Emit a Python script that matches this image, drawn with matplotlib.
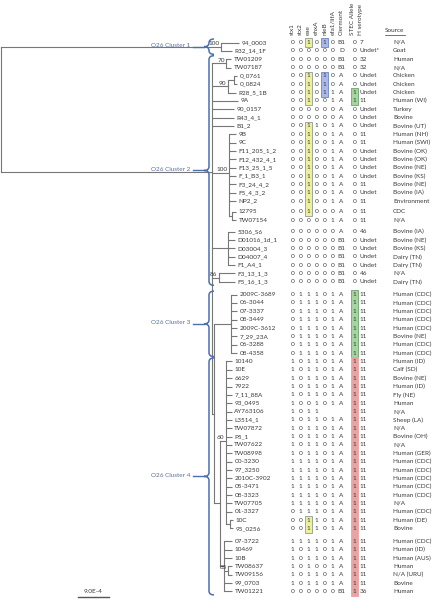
import matplotlib
matplotlib.use("Agg")
import matplotlib.pyplot as plt
from matplotlib.path import Path
from matplotlib.patches import PathPatch, Rectangle

# ---- table data (one entry per strain, top to bottom) ----
names = ["94_0003", "R32_14_1F", "TW01209", "TW07187", "0_0761", "0_0824", "R28_5_1B", "9A",
         "90_0157", "R43_4_1", "B1_2", "9B", "9C", "F11_205_1_2", "F12_432_4_1", "F13_25_1_5",
         "F_1_B3_1", "F3_24_4_2", "F5_4_3_2", "NP2_2", "12795", "TW07154", "5306_S6",
         "D01016_1d_1", "D03004_3", "D04007_4", "F1_A4_1", "F3_13_1_3", "F5_16_1_3",
         "2009C-3689", "06-3044", "07-3337", "08-3449", "2009C-3612", "7_29_23A", "06-3288",
         "08-4358", "10140", "10E", "6629", "7922", "7_11_88A", "93_0495", "AY763106",
         "L3514_1", "TW07872", "P5_1", "TW07622", "TW08998", "00-3230", "97_3250",
         "2010C-3902", "05-3471", "08-3323", "TW07705", "01-3327", "10C", "95_0256",
         "07-3722", "10469", "10B", "TW08637", "TW09156", "99_0703", "TW01221"]

# gene presence, one character per strain ('.' = not determined)
stx1 = "0" * 37 + "1" * 18 + "0" * 3 + "1" * 6 + "0"
stx2 = "0" * 29 + "1" * 8 + "0" * 12 + "1" * 7 + "0" * 2 + "1" + "0" * 6
eae = "1" + "000" + "1111" + "00" + "1" * 11 + "0" * 8 + "1" * 13 + "0" + "1" * 21 + "0"
ehxA = "0" * 10 + "1" + "0" * 18 + "1" * 32 + "0" + "11" + "0"
nleB = "1" + "000" + "111" + "0" * 36 + "." + "0" * 21
efa1 = "0" * 6 + "11" + "00" + "1" * 10 + "0" + "1" + "0" * 7 + "1" * 14 + "." + "1" * 20 + "0"
stec = "0" * 6 + "11" + "0" * 21 + "1" * 36

clermont = ["B1", "D", "B1", "B1"] + ["A"] * 19 + ["B1"] * 6 + ["A"] * 14 + [""] + ["A"] * 20 + ["B1"]
h_type = ["7", "Undet*", "32", "32", "Undet", "Undet", "Undet", "11", "Undet", "Undet", "Undet",
          "11", "11", "Undet", "Undet", "Undet", "Undet", "11", "Undet", "11", "11", "11", "46",
          "Undet", "Undet", "Undet", "Undet", "46", "Undet"] + ["11"] * 35 + ["36"]
source = ["N/A", "Goat", "Human", "N/A", "Chicken", "Chicken", "Chicken", "Human (WI)", "Turkey",
          "Bovine", "Bovine (UT)", "Human (NH)", "Human (SWI)", "Bovine (OK)", "Bovine (OK)",
          "Bovine (NE)", "Bovine (KS)", "Bovine (NE)", "Bovine (IA)", "Environment", "CDC", "N/A",
          "Bovine (IA)", "Bovine (NE)", "Bovine (KS)", "Dairy (TN)", "Dairy (TN)", "N/A",
          "Dairy (TN)", "Human (CDC)", "Human (CDC)", "Human (CDC)", "Human (CDC)", "Human (CDC)",
          "Bovine (NE)", "Human (CDC)", "Human (CDC)", "Human (ID)", "Calf (SD)", "Bovine (NE)",
          "Human (ID)", "Fly (NE)", "Human", "N/A", "Sheep (LA)", "N/A", "Bovine (OH)", "N/A",
          "Human (GER)", "Human (CDC)", "Human (CDC)", "Human (CDC)", "Human (CDC)", "Human (CDC)",
          "N/A", "Human (CDC)", "Human (DE)", "Bovine", "Human (CDC)", "Human (ID)", "Human (AUS)",
          "Human", "N/A (URU)", "Bovine", "Human"]

headers = ["stx1", "stx2", "eae", "ehxA", "nleB", "efa1/lifA", "Clermont", "STEC Allele", "H serotype"]

# highlighted runs: (column, first strain, last strain, fill, edge)
highlights = [
    ("eae", "94_0003", "94_0003", "#eef09c", "#8c9c9c"),
    ("eae", "0_0761", "9A", "#eef09c", "#8c9c9c"),
    ("eae", "B1_2", "12795", "#eef09c", "#8c9c9c"),
    ("eae", "10C", "95_0256", "#eef09c", "#8c9c9c"),
    ("nleB", "94_0003", "94_0003", "#a9b9ea", "#6b84c0"),
    ("nleB", "0_0761", "R28_5_1B", "#a9b9ea", "#6b84c0"),
    ("STEC Allele", "R28_5_1B", "9A", "#a6d6a0", "#6fa06f"),
    ("STEC Allele", "2009C-3689", "08-4358", "#a6d6a0", "#6fa06f"),
    ("STEC Allele", "10140", "TW01221", "#eaa3a3", "#eaa3a3"),
]

# clusters: label, first strain, last strain
clusters = [("O26 Cluster 1", "94_0003", "R32_14_1F"),
            ("O26 Cluster 2", "TW01209", "F5_16_1_3"),
            ("O26 Cluster 3", "2009C-3689", "08-4358"),
            ("O26 Cluster 4", "10140", "TW01221")]

# tree: leaf = (name, branch length), node = ([children], branch length, bootstrap)
# branch lengths in substitutions/site x 1e-4
def tips(group, length):
    return [(n, length) for n in group]

tree = ([
    (tips(["94_0003"], 5.2) + tips(["R32_14_1F"], 3.2), 63.9, "100"),
    ([
        (tips(["TW01209", "TW07187"], 1.5), 4.1, "70"),
        ([(tips(["0_0761", "0_0824"], 0.9), 1.7, None), ("R28_5_1B", 2.3)], 4.6, "90"),
        ("9A", 7.5),
        ("90_0157", 6.4), ("R43_4_1", 6.4), ("B1_2", 6.4),
        (tips(["9B", "9C", "F11_205_1_2", "F12_432_4_1", "F13_25_1_5", "F_1_B3_1",
               "F3_24_4_2", "F5_4_3_2", "NP2_2"], 2.0)
         + [(tips(["12795", "TW07154"], 1.2), 0.9, None)], 4.9, "100"),
        (tips(["5306_S6", "D01016_1d_1", "D03004_3", "D04007_4", "F1_A4_1"], 2.0), 4.6, None),
        (tips(["F3_13_1_3", "F5_16_1_3"], 4.6), 2.0, "86"),
        ([
            (tips(["2009C-3689", "06-3044", "07-3337", "08-3449", "2009C-3612",
                   "7_29_23A", "06-3288", "08-4358"], 1.7), 4.9, None),
            ([
                (tips(["10140", "10E", "6629", "7922", "7_11_88A", "93_0495", "AY763106",
                       "L3514_1", "TW07872", "P5_1", "TW07622", "TW08998", "00-3230",
                       "97_3250", "2010C-3902", "05-3471", "08-3323", "TW07705", "01-3327"], 1.7)
                 + [(tips(["10C", "95_0256"], 0.9), 1.2, None)], 1.7, "60"),
                (tips(["07-3722", "10469", "10B"], 2.3)
                 + [(tips(["TW08637", "TW09156"], 1.2), 1.2, "85")]
                 + tips(["99_0703", "TW01221"], 2.3), 1.2, None),
            ], 1.7, None),
        ], 0.6, None),
    ], 61.3, None),
], 0.0, None)

scale_value = 9.0  # x 1e-4, shown as 9.0E-4

# ---- layout ----
W, H = 433, 604
fig = plt.figure(figsize=(W / 100, H / 100), dpi=100)
ax = fig.add_axes([0, 0, 1, 1])
ax.set_xlim(0, W)
ax.set_ylim(H, 0)
ax.axis("off")
plt.rcParams["font.family"] = ["Lato", "DejaVu Sans"]

row_step = 8.35
gaps_after = {"NP2_2": 2.5, "TW07154": 3.0, "F5_16_1_3": 4.5, "95_0256": 4.5}
row_y = {}
y = 42.5
for n in names:
    row_y[n] = y
    y += row_step + gaps_after.get(n, 0)

px_per_unit = 31 / scale_value
tree_col = "#777777"
txt_col = "#3a3a3a"
fs = 4.6


def draw(node, x0):
    if isinstance(node[0], str):
        name, length = node
        xt = x0 + length * px_per_unit
        yy = row_y[name]
        ax.plot([x0, xt], [yy, yy], color=tree_col, lw=0.8, solid_capstyle="butt")
        ax.text(xt + 2.5, yy, name, fontsize=fs, color=txt_col, va="center", ha="left")
        return yy
    children, length, boot = node
    xn = x0 + length * px_per_unit
    ys = [draw(c, xn) for c in children]
    yn = sum(ys) / len(ys)
    ax.plot([xn, xn], [min(ys), max(ys)], color=tree_col, lw=0.8)
    ax.plot([x0, xn], [yn, yn], color=tree_col, lw=0.8)
    if boot:
        ax.text(xn - 1.5, yn - 0.8, boot, fontsize=fs, color=txt_col, ha="right", va="bottom")
    return yn


draw(tree, 1.0)

# table columns
col_x = {"stx1": 292.7, "stx2": 300.7, "eae": 308.7, "ehxA": 316.7, "nleB": 324.7,
         "efa1/lifA": 332.7, "Clermont": 341.5, "STEC Allele": 354.5, "H serotype": 360}
head_x = dict(col_x, **{"STEC Allele": 352.5, "H serotype": 360.5})
gene_cols = [("stx1", stx1), ("stx2", stx2), ("eae", eae), ("ehxA", ehxA),
             ("nleB", nleB), ("efa1/lifA", efa1), ("STEC Allele", stec)]

for col, first, last, fc, ec in highlights:
    y0 = row_y[first] - 4.2
    y1 = row_y[last] + 4.2
    ax.add_patch(Rectangle((col_x[col] - 3.6, y0), 7.2, y1 - y0, facecolor=fc,
                           edgecolor=ec, lw=0.6, zorder=1))

for i, n in enumerate(names):
    yy = row_y[n]
    for col, vals in gene_cols:
        if vals[i] != ".":
            ax.text(col_x[col], yy, vals[i], fontsize=fs, color=txt_col, ha="center",
                    va="center", zorder=3)
    ax.text(col_x["Clermont"], yy, clermont[i], fontsize=fs, color=txt_col, ha="center",
            va="center")
    ax.text(col_x["H serotype"], yy, h_type[i], fontsize=fs, color=txt_col, ha="left",
            va="center")
    ax.text(393, yy, source[i], fontsize=fs, color=txt_col, ha="left", va="center")

for hname in headers:
    ax.text(head_x[hname], 35, hname, fontsize=fs, color=txt_col, rotation=90,
            ha="center", va="bottom")
ax.text(385, 31, "Source", fontsize=fs, color=txt_col, ha="left", va="center")
ax.plot([385, 405], [34.5, 34.5], color=txt_col, lw=0.5)

# cluster braces
brace_col = "#4a70b0"
bx, bw = 209, 5
for label, first, last in clusters:
    top = row_y[first] - 3.5
    bot = row_y[last] + 3.5
    mid = (top + bot) / 2
    r = min(4, (bot - top) / 4)
    verts = [(bx + bw, top), (bx, top), (bx, top + r),
             (bx, mid - r), (bx, mid), (bx - bw, mid),
             (bx, mid), (bx, mid + r),
             (bx, bot - r), (bx, bot), (bx + bw, bot)]
    codes = [Path.MOVETO, Path.CURVE3, Path.CURVE3,
             Path.LINETO, Path.CURVE3, Path.CURVE3,
             Path.CURVE3, Path.CURVE3,
             Path.LINETO, Path.CURVE3, Path.CURVE3]
    ax.add_patch(PathPatch(Path(verts, codes), facecolor="none", edgecolor=brace_col,
                           lw=1.1, zorder=4))
    ax.plot([193, bx - bw], [mid, mid], color=brace_col, lw=1.0)
    ax.text(190, mid - 1, label, fontsize=fs, color="#5a6f96", ha="right", va="center")

# scale bar
ax.plot([78, 78 + scale_value * px_per_unit], [597, 597], color="#555555", lw=1.0)
ax.text(78 + scale_value * px_per_unit / 2, 594, "9.0E-4", fontsize=fs, color=txt_col,
        ha="center", va="bottom")

fig.savefig("out.png", dpi=100)
